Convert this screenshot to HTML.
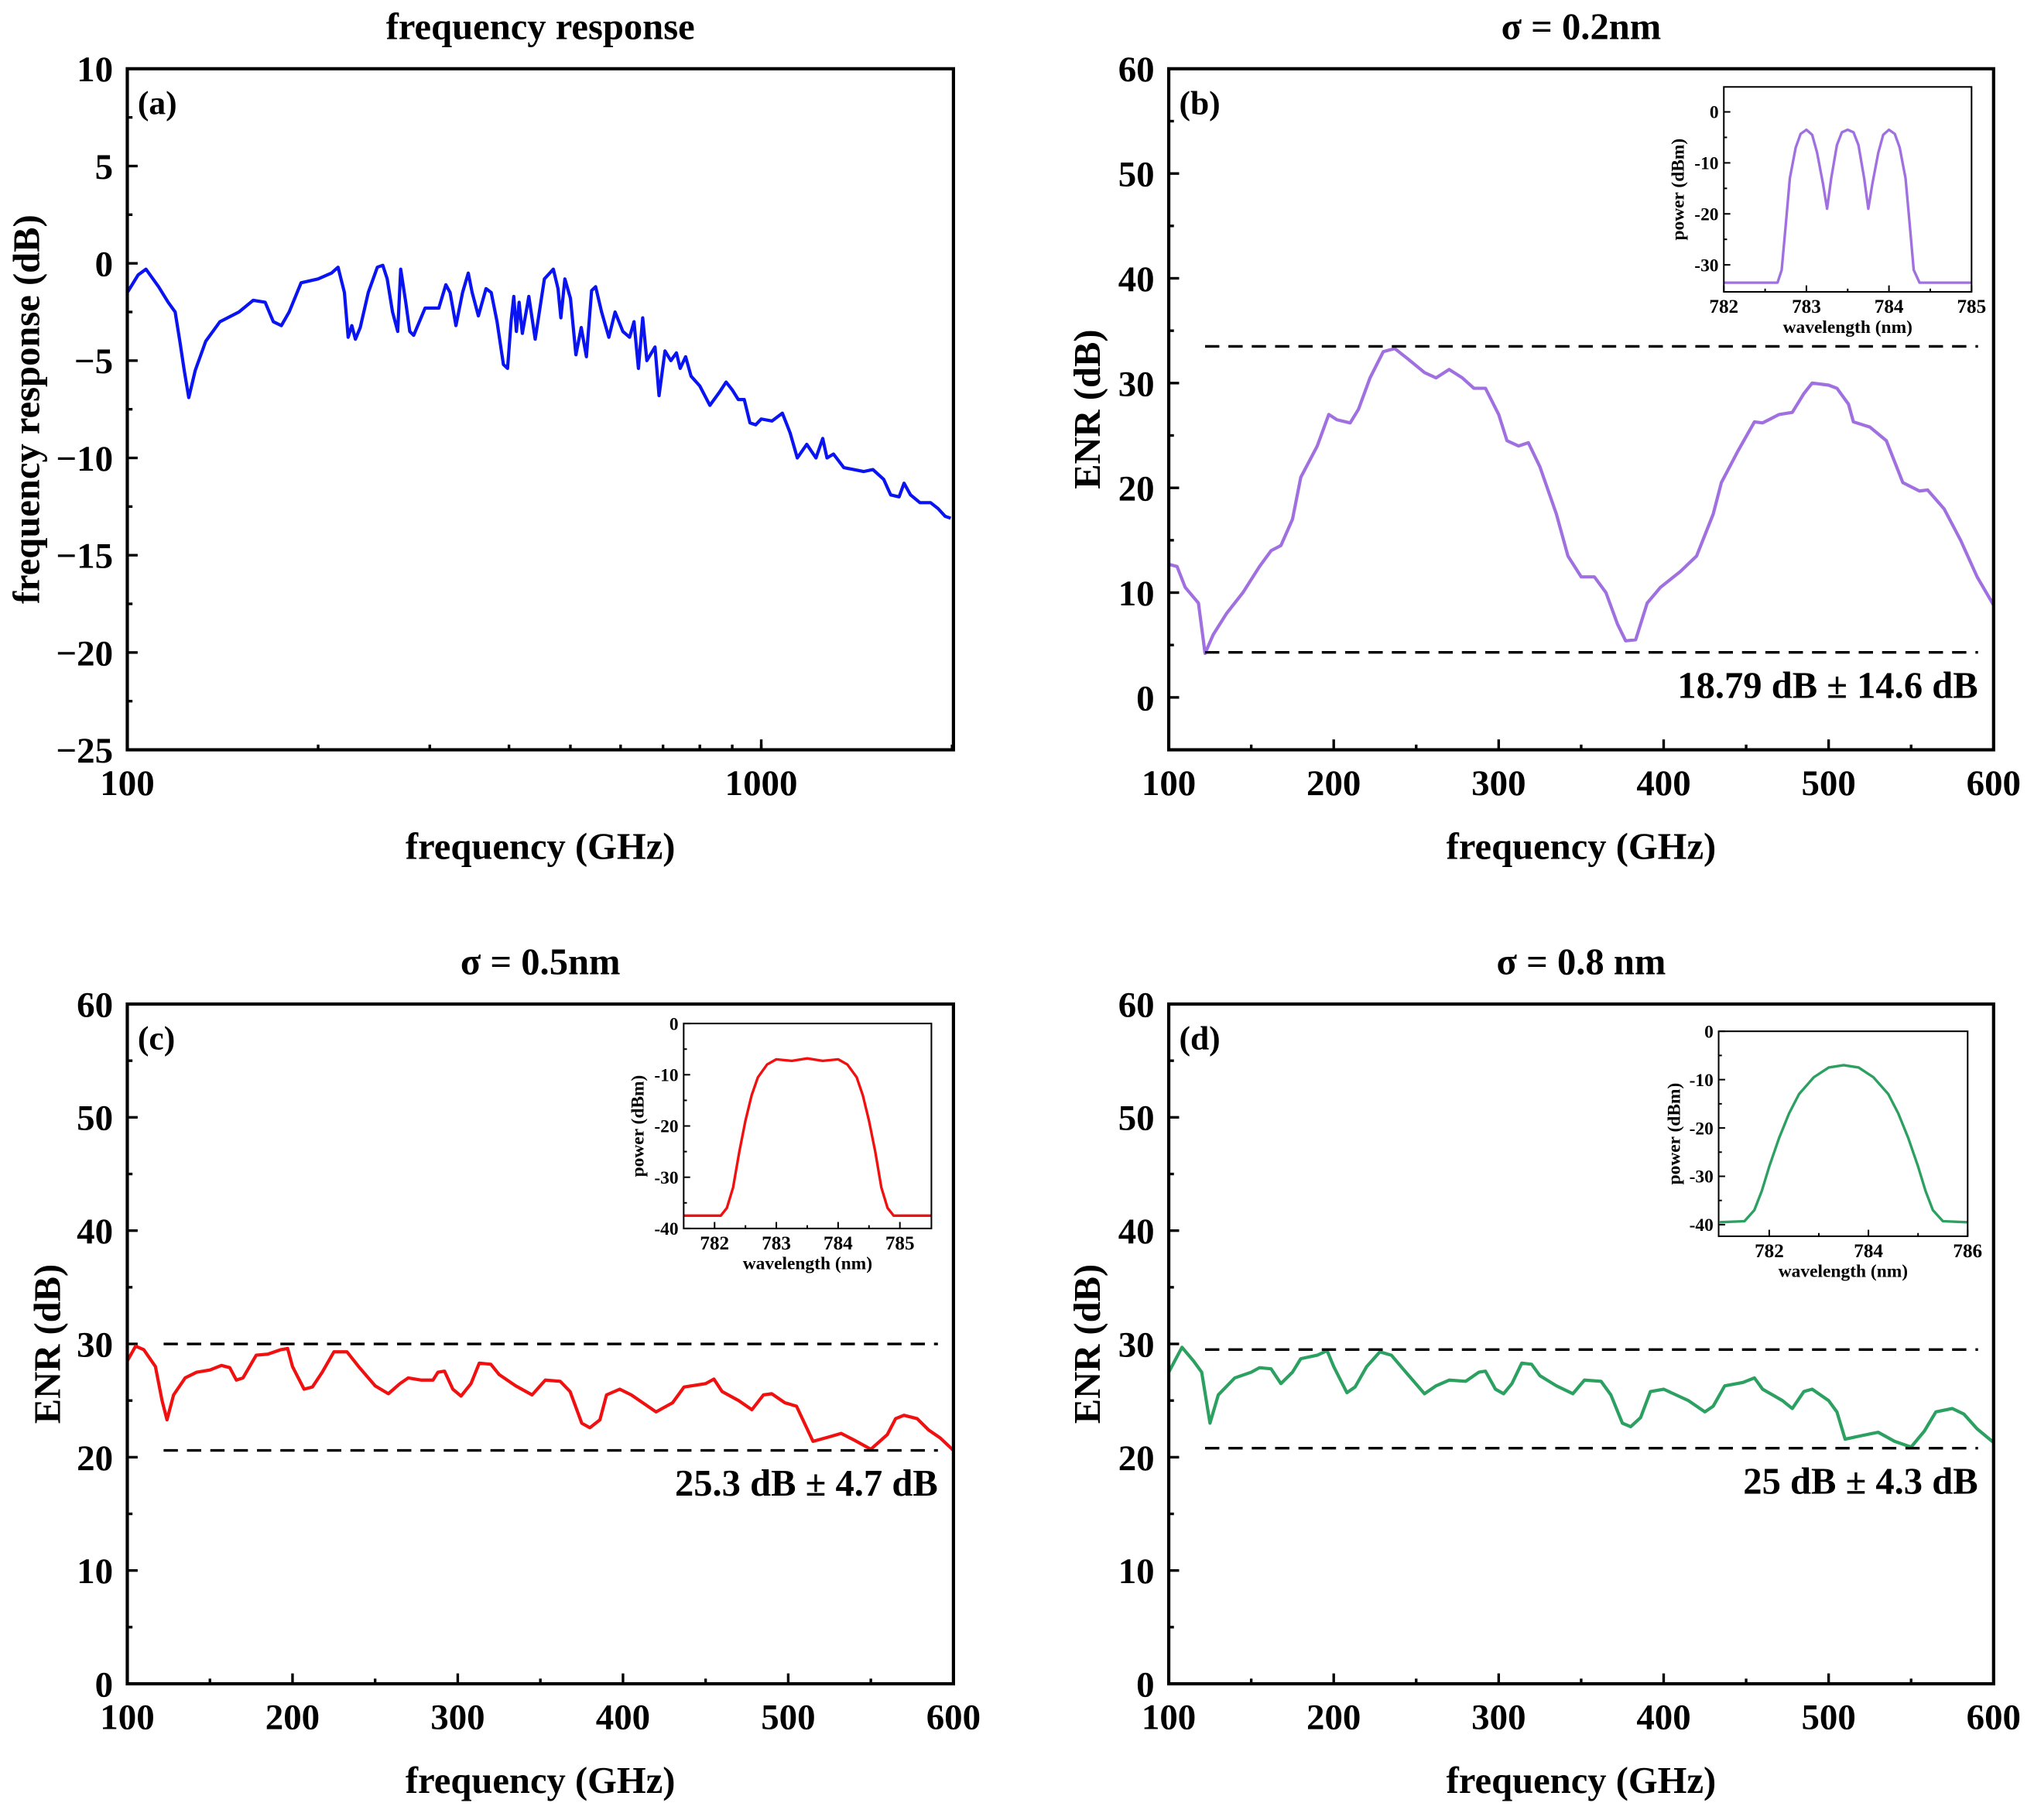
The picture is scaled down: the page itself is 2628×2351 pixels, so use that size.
<!DOCTYPE html>
<html><head><meta charset="utf-8"><style>
html,body{margin:0;padding:0;background:#fff}
svg{display:block}
text{font-family:"Liberation Serif",serif;font-weight:bold;fill:#000}
</style></head><body>
<svg id="fig" xmlns="http://www.w3.org/2000/svg" width="2628" height="2351" viewBox="0 0 1568 1403"></svg>
<script>
// ---- data ----
const aFreq=[100,104,107,112,116,119,121,123,125,128,133,140,150,158,165,170,175,180,188,200,210,215,220,223,226,229,233,240,248,253,257,262,267,270,275,279,283,295,310,318,323,330,338,345,350,358,368,375,383,392,398,403,407,411,415,420,430,440,455,470,478,483,490,500,510,520,530,540,548,560,575,588,605,620,630,640,650,660,680,690,705,720,735,745,760,775,800,830,860,880,900,920,940,960,980,1000,1040,1080,1110,1140,1180,1220,1250,1270,1300,1350,1400,1450,1500,1560,1600,1650,1680,1720,1780,1850,1900,1950,1990];
const aResp=[-1.5,-0.6,-0.3,-1.2,-2.0,-2.5,-4,-5.5,-6.9,-5.5,-4,-3,-2.5,-1.9,-2.0,-3.0,-3.2,-2.5,-1.0,-0.8,-0.5,-0.2,-1.5,-3.8,-3.2,-3.9,-3.3,-1.5,-0.2,-0.1,-0.8,-2.5,-3.5,-0.3,-2,-3.5,-3.7,-2.3,-2.3,-1.1,-1.5,-3.2,-1.5,-0.5,-1.5,-2.7,-1.3,-1.5,-3.0,-5.2,-5.4,-3,-1.7,-3.5,-2,-3.6,-1.7,-3.9,-0.8,-0.3,-1.3,-2.8,-0.8,-1.8,-4.7,-3.3,-4.8,-1.4,-1.2,-2.5,-3.8,-2.5,-3.5,-3.8,-3,-5.4,-2.8,-5,-4.3,-6.8,-4.5,-5.0,-4.6,-5.4,-4.8,-5.8,-6.3,-7.3,-6.6,-6.1,-6.5,-7.0,-7.0,-8.2,-8.3,-8.0,-8.1,-7.7,-8.7,-10.0,-9.3,-10.0,-9.0,-10.0,-9.8,-10.5,-10.6,-10.7,-10.6,-11.1,-11.9,-12.0,-11.3,-11.9,-12.3,-12.3,-12.6,-13.0,-13.1];
const bFreq=[100,105,110,118,122,127,135,145,155,162,168,175,180,190,197,202,210,215,222,230,237,245,255,262,270,278,285,292,300,305,312,318,325,335,342,350,358,365,372,377,383,390,398,410,420,430,435,445,455,460,470,478,485,490,500,505,512,515,525,535,545,555,560,570,580,590,600];
const bEnr=[12.7,12.5,10.5,9,4.2,6,8,10,12.5,14,14.5,17,21,24,27,26.5,26.2,27.5,30.5,33,33.3,32.3,31,30.5,31.3,30.5,29.5,29.5,27,24.5,24,24.3,22,17.5,13.5,11.5,11.5,10,7,5.4,5.5,9,10.5,12,13.5,17.5,20.5,23.5,26.3,26.2,27,27.2,29,30,29.8,29.5,28,26.3,25.8,24.5,20.5,19.7,19.8,18,15,11.5,8.8];
const cFreq=[100,105,110,117,121,124,128,135,142,150,157,162,166,170,178,185,193,197,200,207,212,218,225,233,240,250,258,265,270,278,285,288,292,297,302,308,313,320,325,335,345,353,362,368,375,380,386,390,398,405,420,430,437,450,455,460,470,478,485,490,498,505,515,525,532,540,550,560,565,570,578,585,592,600];
const cEnr=[28.5,29.8,29.5,28,25,23.3,25.5,27,27.5,27.7,28.1,27.9,26.8,27,29,29.1,29.5,29.6,28,26,26.2,27.5,29.3,29.3,28,26.3,25.6,26.5,27,26.8,26.8,27.5,27.6,26,25.4,26.5,28.3,28.2,27.3,26.3,25.5,26.8,26.7,25.8,23,22.6,23.3,25.5,26,25.5,24,24.8,26.2,26.5,26.9,25.8,25,24.2,25.5,25.6,24.8,24.5,21.4,21.8,22.1,21.5,20.7,22,23.4,23.7,23.4,22.4,21.7,20.6];
const dFreq=[100,108,115,120,125,130,140,150,155,162,168,175,180,190,196,200,208,213,220,228,235,242,255,262,270,280,288,292,298,303,308,314,320,325,335,345,352,362,368,375,380,386,392,400,415,425,430,437,448,455,460,472,478,485,490,500,505,510,520,530,540,550,558,565,575,582,590,600];
const dEnr=[27.5,29.7,28.5,27.5,23,25.5,27,27.5,27.9,27.8,26.5,27.5,28.7,29,29.4,28,25.7,26.2,28,29.3,29,27.8,25.6,26.3,26.8,26.7,27.5,27.6,26,25.6,26.5,28.3,28.2,27.2,26.3,25.6,26.8,26.7,25.5,23,22.7,23.5,25.8,26,25,24,24.5,26.3,26.6,27,26,25,24.3,25.8,26,25,24,21.6,21.9,22.2,21.4,20.9,22.3,24,24.3,23.8,22.5,21.3];
const bBounds=[33.5,4.3], cBounds=[30,20.6], dBounds=[29.5,20.8];
const bNote="18.79 dB ± 14.6 dB", cNote="25.3 dB ± 4.7 dB", dNote="25 dB ± 4.3 dB";
const biWl=[782,782.65,782.7,782.75,782.8,782.87,782.93,783,783.07,783.13,783.2,783.25,783.3,783.37,783.43,783.5,783.57,783.63,783.7,783.75,783.8,783.87,783.93,784,784.07,784.13,784.2,784.25,784.3,784.37,785];
const biP=[-33.5,-33.5,-31,-22,-13,-7,-4.3,-3.5,-4.5,-8,-14,-19,-13,-6.5,-4,-3.5,-4,-6.5,-13,-19,-14,-8,-4.5,-3.5,-4.3,-7,-13,-22,-31,-33.5,-33.5];
const ciWl=[781.5,782.1,782.2,782.3,782.4,782.5,782.6,782.7,782.85,783,783.25,783.5,783.75,784,784.15,784.3,784.4,784.5,784.6,784.7,784.8,784.9,785.5];
const ciP=[-37.5,-37.5,-36,-32,-25,-19,-14,-10.5,-8,-7,-7.3,-6.8,-7.3,-7,-8,-10.5,-14,-19,-25,-32,-36,-37.5,-37.5];
const diWl=[781,781.5,781.7,781.85,782,782.2,782.4,782.6,782.9,783.2,783.5,783.8,784.1,784.4,784.6,784.8,785,785.15,785.3,785.5,786];
const diP=[-39.5,-39.3,-37,-33,-28,-22,-17,-13,-9.5,-7.5,-7,-7.5,-9.5,-13,-17,-22,-28,-33,-37,-39.3,-39.5];

const NS="http://www.w3.org/2000/svg", svg=document.getElementById('fig');
function mk(tag,attrs,parent){const e=document.createElementNS(NS,tag);for(const k in attrs)e.setAttribute(k,attrs[k]);(parent||svg).appendChild(e);return e;}
function txt(s,x,y,size,anchor,parent,rot){const t=mk('text',{x:x,y:y,'font-size':size,'text-anchor':anchor||'middle'},parent);if(rot)t.setAttribute('transform','rotate(-90 '+x+' '+y+')');t.textContent=s;return t;}

function panel(o){
  const g=mk('g',{});
  
  
  const sx=o.log?(v=>o.x0+(Math.log10(v)-Math.log10(o.xmin))/(Math.log10(o.xmax)-Math.log10(o.xmin))*(o.x1-o.x0)):(v=>o.x0+(v-o.xmin)/(o.xmax-o.xmin)*(o.x1-o.x0));
  const sy=v=>o.y1-(v-o.ymin)/(o.ymax-o.ymin)*(o.y1-o.y0);
  const small=!!o.fs, fs=o.fs||28, tl=o.tl||8;
  const neg=small?'-':'\u2212';
  const tg=mk('g',{stroke:'#000','stroke-width':o.sw||2},g);
  
  
  o.yt.forEach(v=>{const y=sy(v);mk('line',{x1:o.x0,x2:o.x0+tl,y1:y,y2:y},tg);txt((v<0?neg+(-v):''+v),o.x0-(small?4:11),y+fs*0.35,fs,'end',g);});
  if(o.ym) o.ym.forEach(v=>{const y=sy(v);mk('line',{x1:o.x0,x2:o.x0+tl/2,y1:y,y2:y},tg);});
  o.xt.forEach(v=>{const x=sx(v);mk('line',{x1:x,x2:x,y1:o.y1,y2:o.y1-tl},tg);txt(''+v,x,o.y1+(small?fs*1.15:35),small?fs+1:fs,'middle',g);});
  if(o.xm) o.xm.forEach(v=>{const x=sx(v);mk('line',{x1:x,x2:x,y1:o.y1,y2:o.y1-tl/2},tg);});
  const pts=o.xs.map((v,i)=>sx(v).toFixed(1)+','+sy(o.ys[i]).toFixed(1)).join(' ');
  const pl=mk('polyline',{points:pts,fill:'none',stroke:o.color,'stroke-width':o.lw||2.5,'stroke-linejoin':'round'},g);
  
  
  if(o.bounds){o.bounds.forEach((b,i)=>{const l=mk('line',{x1:o.x0+28,x2:o.x1-12,y1:sy(b),y2:sy(b),stroke:'#000','stroke-width':2,'stroke-dasharray':'11 7'},g);
    
    });}
  const fr=mk('rect',{x:o.x0,y:o.y0,width:o.x1-o.x0,height:o.y1-o.y0,fill:'none',stroke:'#000','stroke-width':o.sw||2.5},g);
  
  
  if(o.title){const t=txt(o.title,(o.x0+o.x1)/2,o.y0-23,29,'middle',g);}
  if(o.xl){const t=txt(o.xl,(o.x0+o.x1)/2,o.y1+(small?fs*2.25:84),small?fs:29,'middle',g);}
  if(o.yl){const t=txt(o.yl,o.ylx,(o.y0+o.y1)/2,small?fs:29,'middle',g,true);}
  if(o.tag){const t=txt(o.tag,o.x0+8,o.y0+35,26,'start',g);}
  if(o.note){const t=txt(o.note,o.x1-12,sy(o.bounds[1])+35,29,'end',g);}
  if(o.inset){mk('rect',{x:o.inset.x0,y:o.inset.y0,width:o.inset.x1-o.inset.x0,height:o.inset.y1-o.inset.y0,fill:'#fff'},g);panel(o.inset);}
}
const lt=[]; for(let d=100;d<=2000;d+=(d<1000?100:1000)) lt.push(d);
panel({name:'panel-a-frequency-response',x0:98,x1:735,y0:53,y1:578,log:true,xmin:100,xmax:2010,ymin:-25,ymax:10,
  yt:[10,5,0,-5,-10,-15,-20,-25],ym:[7.5,2.5,-2.5,-7.5,-12.5,-17.5,-22.5],xt:[100,1000],xm:lt,xs:aFreq,ys:aResp,color:'#0a14f0',
  title:'frequency response',xl:'frequency (GHz)',yl:'frequency response (dB)',ylx:30,tag:'(a)'});
const ym6=[55,45,35,25,15,5],xm6=[150,250,350,450,550];
panel({name:'panel-b-enr-0.2nm',x0:901,x1:1537,y0:53,y1:578,xmin:100,xmax:600,ymin:-5,ymax:60,
  yt:[0,10,20,30,40,50,60],ym:ym6,xt:[100,200,300,400,500,600],xm:xm6,xs:bFreq,ys:bEnr,color:'#a070e0',
  bounds:bBounds,note:bNote,title:'σ = 0.2nm',xl:'frequency (GHz)',yl:'ENR (dB)',ylx:848,tag:'(b)',
  inset:{name:'inset-b-spectrum',x0:1329,x1:1520,y0:67,y1:225,xmin:782,xmax:785,ymin:-35.3,ymax:4.9,fs:14,tl:5,sw:1.2,lw:2,
    yt:[0,-10,-20,-30],ym:[-5,-15,-25],xt:[782,783,784,785],xm:[782.5,783.5,784.5],xs:biWl,ys:biP,color:'#a070e0',xl:'wavelength (nm)',yl:'power (dBm)',ylx:1298}});
panel({name:'panel-c-enr-0.5nm',x0:98,x1:735,y0:774,y1:1298,xmin:100,xmax:600,ymin:0,ymax:60,
  yt:[0,10,20,30,40,50,60],ym:ym6,xt:[100,200,300,400,500,600],xm:xm6,xs:cFreq,ys:cEnr,color:'#f01010',
  bounds:cBounds,note:cNote,title:'σ = 0.5nm',xl:'frequency (GHz)',yl:'ENR (dB)',ylx:46,tag:'(c)',
  inset:{name:'inset-c-spectrum',x0:527,x1:718,y0:789,y1:947,xmin:781.5,xmax:785.51,ymin:-40,ymax:0,fs:14,tl:5,sw:1.2,lw:2,
    yt:[0,-10,-20,-30,-40],ym:[-5,-15,-25,-35],xt:[782,783,784,785],xm:[782.5,783.5,784.5],xs:ciWl,ys:ciP,color:'#f01010',xl:'wavelength (nm)',yl:'power (dBm)',ylx:496}});
panel({name:'panel-d-enr-0.8nm',x0:901,x1:1537,y0:774,y1:1298,xmin:100,xmax:600,ymin:0,ymax:60,
  yt:[0,10,20,30,40,50,60],ym:ym6,xt:[100,200,300,400,500,600],xm:xm6,xs:dFreq,ys:dEnr,color:'#2ca060',
  bounds:dBounds,note:dNote,title:'σ = 0.8 nm',xl:'frequency (GHz)',yl:'ENR (dB)',ylx:848,tag:'(d)',
  inset:{name:'inset-d-spectrum',x0:1325,x1:1517,y0:795,y1:953,xmin:780.98,xmax:786,ymin:-42.4,ymax:0,fs:14,tl:5,sw:1.2,lw:2,
    yt:[0,-10,-20,-30,-40],ym:[-5,-15,-25,-35],xt:[782,784,786],xm:[783,785],xs:diWl,ys:diP,color:'#2ca060',xl:'wavelength (nm)',yl:'power (dBm)',ylx:1295}});
</script>
</body></html>
